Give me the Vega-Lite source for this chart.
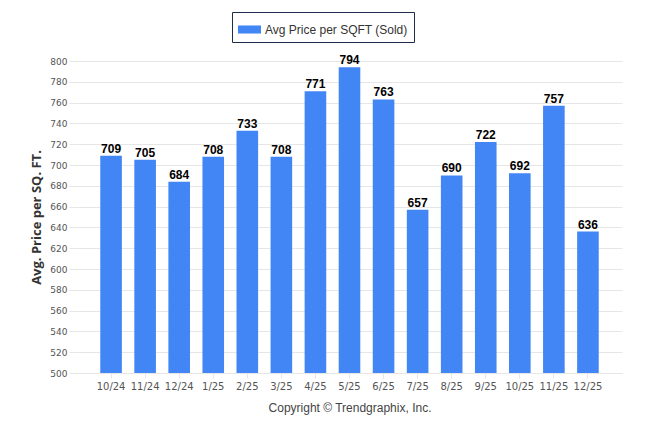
{
  "$schema": "https://vega.github.io/schema/vega-lite/v6.json",
  "width": 545,
  "height": 312,
  "autosize": "none",
  "padding": {"left": 77, "top": 61, "right": 24, "bottom": 61},
  "background": "white",
  "config": {"view": {"stroke": null}, "font": "DejaVu Sans"},
  "data": {"values": [
    {"month": "10/24", "price": 709},
    {"month": "11/24", "price": 705},
    {"month": "12/24", "price": 684},
    {"month": "1/25", "price": 708},
    {"month": "2/25", "price": 733},
    {"month": "3/25", "price": 708},
    {"month": "4/25", "price": 771},
    {"month": "5/25", "price": 794},
    {"month": "6/25", "price": 763},
    {"month": "7/25", "price": 657},
    {"month": "8/25", "price": 690},
    {"month": "9/25", "price": 722},
    {"month": "10/25", "price": 692},
    {"month": "11/25", "price": 757},
    {"month": "12/25", "price": 636}
  ]},
  "encoding": {
    "x": {"field": "month", "type": "nominal", "sort": null,
      "scale": {"paddingInner": 0.366, "paddingOuter": 0.683},
      "axis": {"labelAngle": 0, "labelFont": "DejaVu Sans", "labelFontSize": 10, "labelColor": "#555555",
        "domainColor": "#e6e6e6", "tickColor": "#e6e6e6", "tickSize": 5, "labelPadding": 3,
        "title": "Copyright © Trendgraphix, Inc.", "titleFont": "Liberation Sans", "titleFontSize": 12, "titleFontWeight": "normal", "titleColor": "#444444", "titlePadding": 11}},
    "y": {"field": "price", "type": "quantitative",
      "scale": {"domain": [500, 800], "nice": false, "zero": false},
      "axis": {"values": [500,520,540,560,580,600,620,640,660,680,700,720,740,760,780,800],
        "labelFont": "DejaVu Sans", "labelFontSize": 9, "labelColor": "#555555",
        "domain": false, "tickColor": "#e6e6e6", "tickSize": 8, "gridColor": "#e6e6e6",
        "title": "Avg. Price per SQ. FT.", "titleFont": "Open Sans", "titleFontSize": 13, "titleFontWeight": "bold", "titleColor": "#333333", "titlePadding": 6}}
  },
  "layer": [
    {"mark": {"type": "bar", "clip": true},
      "encoding": {"color": {"datum": "Avg Price per SQFT (Sold)", "type": "nominal",
        "scale": {"range": ["#4285F4"]},
        "legend": {"title": null, "orient": "none", "legendX": 155, "legendY": -49,
          "strokeColor": "#1f2d4d", "fillColor": "white", "padding": 6,
          "labelExpr": "datum.label + '\u00a0\u00a0'",
          "symbolType": "M-1,-0.35H1V0.35H-1Z", "symbolSize": 529, "symbolStrokeWidth": 0, "symbolOpacity": 1,
          "labelOffset": 4,
          "labelFont": "Liberation Sans", "labelFontSize": 12, "labelColor": "#333333", "labelLimit": 300}}}},
    {"mark": {"type": "text", "dy": -3, "baseline": "alphabetic", "fontWeight": "bold", "fontSize": 12, "font": "Liberation Sans", "color": "black"},
      "encoding": {"text": {"field": "price", "type": "quantitative"}}}
  ]
}
